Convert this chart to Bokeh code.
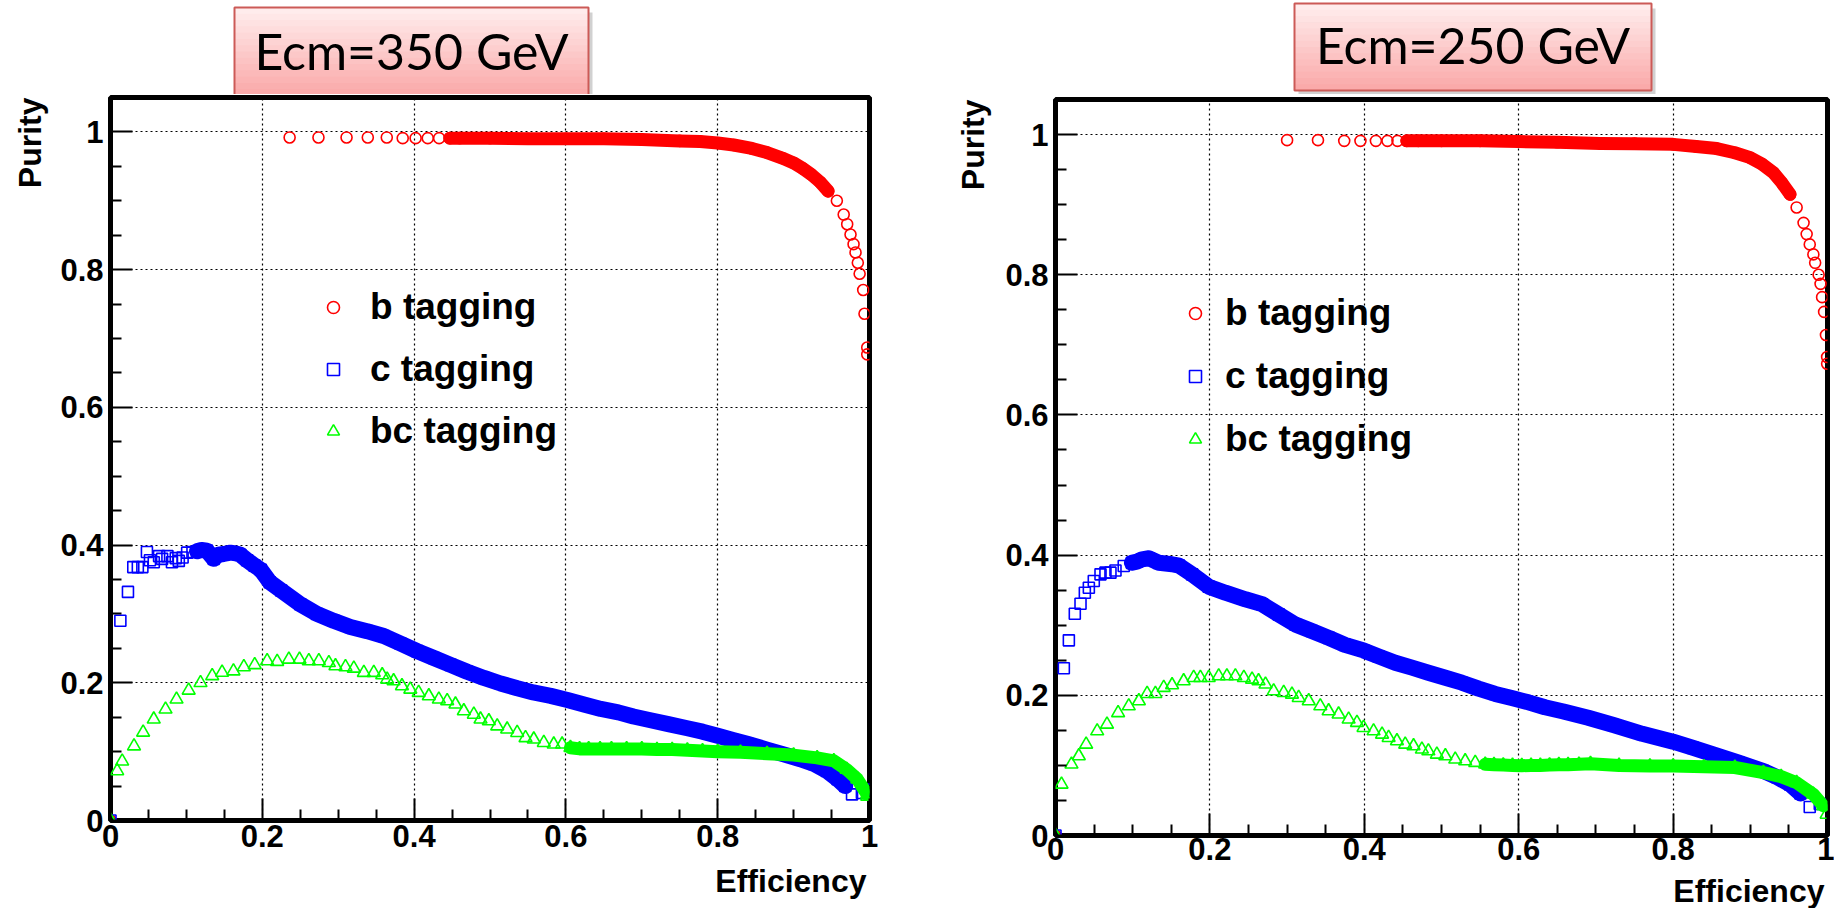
import math
from bokeh.plotting import figure
from bokeh.layouts import row, column
from bokeh.models import (FixedTicker, Legend, LegendItem, Range1d, ColumnDataSource, Plot)
from bokeh.core.properties import value
from bokeh.embed import file_html
from bokeh.resources import INLINE

# ---------------- data ----------------
x_ticks = [0.0, 0.2, 0.4, 0.6, 0.8, 1.0]
x_tick_labels = ["0", "0.2", "0.4", "0.6", "0.8", "1"]
y_ticks = [0.0, 0.2, 0.4, 0.6, 0.8, 1.0]
y_tick_labels = ["0", "0.2", "0.4", "0.6", "0.8", "1"]
series_labels = ["b tagging", "c tagging", "bc tagging"]
panel_titles = ["Ecm=350 GeV", "Ecm=250 GeV"]
x_title = "Efficiency"
y_title = "Purity"

# ---- Ecm = 350 GeV ----
b350_eff = [0.0, 0.236, 0.274, 0.311, 0.339, 0.364, 0.385, 0.402, 0.418, 0.433, 0.447, 0.46, 0.50, 0.55,
            0.60, 0.65, 0.70, 0.75, 0.777, 0.80, 0.821, 0.845, 0.865, 0.885, 0.90, 0.912, 0.9235, 0.935,
            0.9455, 0.957, 0.966, 0.9706, 0.975, 0.979, 0.9816, 0.9846, 0.987, 0.9917, 0.9934, 0.997, 0.997]
b350_pur = [0.0, 0.992, 0.992, 0.992, 0.992, 0.992, 0.991, 0.991, 0.991, 0.991, 0.991, 0.991, 0.991, 0.990,
            0.990, 0.990, 0.989, 0.987, 0.986, 0.984, 0.981, 0.976, 0.970, 0.962, 0.955, 0.947, 0.938, 0.927,
            0.914, 0.900, 0.880, 0.866, 0.851, 0.837, 0.825, 0.810, 0.794, 0.7705, 0.736, 0.687, 0.677]

c350_eff = [0.0, 0.013, 0.023, 0.030, 0.036, 0.042, 0.048, 0.052, 0.057, 0.064, 0.068, 0.075, 0.081, 0.086,
            0.090, 0.095, 0.101, 0.108, 0.114, 0.120, 0.127, 0.136, 0.142, 0.149, 0.158, 0.165, 0.171, 0.180,
            0.190, 0.198, 0.210, 0.225, 0.250, 0.272, 0.294, 0.316, 0.338, 0.360, 0.382, 0.404, 0.426, 0.448,
            0.470, 0.492, 0.514, 0.536, 0.557, 0.580, 0.602, 0.625, 0.646, 0.669, 0.689, 0.710, 0.735, 0.760,
            0.780, 0.800, 0.820, 0.840, 0.865, 0.887, 0.909, 0.927, 0.944, 0.958, 0.968, 0.977, 0.990, 0.997]
c350_pur = [0.0, 0.290, 0.332, 0.368, 0.368, 0.368, 0.390, 0.378, 0.375, 0.384, 0.380, 0.384, 0.375, 0.381,
            0.377, 0.382, 0.389, 0.390, 0.391, 0.393, 0.392, 0.380, 0.386, 0.387, 0.389, 0.388, 0.386, 0.378,
            0.370, 0.364, 0.346, 0.334, 0.314, 0.300, 0.290, 0.281, 0.275, 0.268, 0.257, 0.246, 0.236, 0.226,
            0.216, 0.207, 0.199, 0.192, 0.186, 0.181, 0.175, 0.168, 0.162, 0.157, 0.151, 0.146, 0.140, 0.134,
            0.129, 0.123, 0.117, 0.111, 0.103, 0.096, 0.089, 0.082, 0.072, 0.060, 0.050, 0.038, 0.040, 0.045]

g350_eff = [0.0, 0.0088, 0.0154, 0.031, 0.043, 0.057, 0.0725, 0.087, 0.103, 0.1186, 0.134, 0.147, 0.162,
            0.1757, 0.190, 0.2064, 0.2196, 0.235, 0.249, 0.2613, 0.2745, 0.2877, 0.2964, 0.3096, 0.3206,
            0.3338, 0.3469, 0.358, 0.3645, 0.373, 0.384, 0.395, 0.406, 0.4194, 0.4326, 0.4436, 0.4545,
            0.4655, 0.4787, 0.4875, 0.4985, 0.5095, 0.5226, 0.5358, 0.5468, 0.5577, 0.5709, 0.584, 0.595,
            0.606, 0.618, 0.630, 0.645, 0.660, 0.680, 0.700, 0.720, 0.740, 0.760, 0.780, 0.800, 0.830,
            0.865, 0.900, 0.931, 0.953, 0.970, 0.984, 0.997, 0.997]
g350_pur = [0.0, 0.072, 0.086, 0.108, 0.128, 0.147, 0.1615, 0.176, 0.189, 0.200, 0.210, 0.215, 0.217,
            0.223, 0.226, 0.2317, 0.2307, 0.234, 0.234, 0.2317, 0.2317, 0.229, 0.2244, 0.223, 0.221,
            0.2147, 0.2147, 0.2113, 0.205, 0.2026, 0.1953, 0.1905, 0.1857, 0.1808, 0.176, 0.1736, 0.1688,
            0.159, 0.154, 0.147, 0.1445, 0.137, 0.1325, 0.1275, 0.120, 0.118, 0.113, 0.1107, 0.1107,
            0.1057, 0.104, 0.104, 0.104, 0.104, 0.104, 0.104, 0.103, 0.103, 0.102, 0.101, 0.100, 0.099,
            0.097, 0.095, 0.091, 0.0865, 0.074, 0.060, 0.038, 0.035]

# ---- Ecm = 250 GeV ----
b250_eff = [0.0, 0.300, 0.340, 0.374, 0.395, 0.415, 0.430, 0.443, 0.455, 0.470, 0.500, 0.550, 0.600, 0.650,
            0.7055, 0.750, 0.800, 0.830, 0.8565, 0.880, 0.900, 0.915, 0.930, 0.941, 0.9515, 0.960, 0.969,
            0.973, 0.977, 0.9817, 0.984, 0.9885, 0.991, 0.993, 0.9956, 0.998, 0.9995, 0.9995]
b250_pur = [0.0, 0.992, 0.992, 0.991, 0.991, 0.991, 0.991, 0.991, 0.991, 0.991, 0.991, 0.991, 0.990, 0.989,
            0.9874, 0.987, 0.986, 0.983, 0.980, 0.974, 0.967, 0.958, 0.9455, 0.931, 0.9147, 0.896, 0.874,
            0.858, 0.8433, 0.829, 0.817, 0.800, 0.787, 0.768, 0.747, 0.714, 0.6826, 0.673]

c250_eff = [0.0, 0.0108, 0.0173, 0.0250, 0.0324, 0.0380, 0.0432, 0.0496, 0.0583, 0.0647, 0.0712, 0.0777,
            0.0884, 0.0990, 0.1060, 0.1120, 0.1210, 0.1338, 0.1510, 0.1600, 0.1770, 0.1985, 0.2200, 0.2460,
            0.2675, 0.2890, 0.3107, 0.3320, 0.3540, 0.3750, 0.3990, 0.4185, 0.4400, 0.4617, 0.4830, 0.5050,
            0.5264, 0.5480, 0.5696, 0.5910, 0.6127, 0.6340, 0.6580, 0.6900, 0.7227, 0.7600, 0.8000, 0.8260,
            0.8520, 0.8850, 0.9170, 0.9350, 0.9515, 0.9650, 0.9770, 0.9900]
c250_pur = [0.0, 0.2385, 0.2784, 0.3164, 0.3307, 0.3464, 0.3535, 0.3630, 0.3726, 0.3750, 0.3750, 0.3780,
            0.3845, 0.3890, 0.3910, 0.3940, 0.3955, 0.3890, 0.3870, 0.3850, 0.3726, 0.3550, 0.3464, 0.3370,
            0.3300, 0.3155, 0.3010, 0.2917, 0.2820, 0.2720, 0.2640, 0.2555, 0.2465, 0.2394, 0.2322, 0.2250,
            0.2180, 0.2095, 0.2020, 0.1960, 0.1900, 0.1830, 0.1770, 0.1680, 0.1576, 0.1450, 0.1338, 0.1250,
            0.1158, 0.1040, 0.0920, 0.0830, 0.0730, 0.0600, 0.0407, 0.0450]

g250_eff = [0.0, 0.0078, 0.0207, 0.0302, 0.0397, 0.054, 0.0667, 0.0811, 0.0949, 0.108, 0.1187, 0.1294,
            0.1402, 0.151, 0.166, 0.179, 0.1877, 0.1985, 0.2114, 0.222, 0.233, 0.244, 0.2546, 0.263, 0.272,
            0.2826, 0.2956, 0.3063, 0.315, 0.328, 0.343, 0.3538, 0.3667, 0.3797, 0.3905, 0.399, 0.412, 0.423,
            0.4315, 0.4423, 0.453, 0.4638, 0.4746, 0.483, 0.494, 0.505, 0.5178, 0.5307, 0.5437, 0.5566,
            0.568, 0.580, 0.592, 0.604, 0.616, 0.628, 0.640, 0.652, 0.664, 0.678, 0.693, 0.730, 0.770,
            0.800, 0.840, 0.880, 0.917, 0.940, 0.960, 0.9816, 0.9945, 0.9989]
g250_pur = [0.0, 0.073, 0.1016, 0.1134, 0.130, 0.149, 0.1586, 0.175, 0.1847, 0.1919, 0.2023, 0.2023,
            0.2109, 0.2147, 0.2204, 0.2251, 0.2251, 0.2251, 0.2275, 0.2275, 0.2275, 0.2251, 0.2228, 0.2204,
            0.2157, 0.2061, 0.2037, 0.2013, 0.1966, 0.1919, 0.1847, 0.1776, 0.173, 0.1658, 0.161, 0.1538,
            0.149, 0.1443, 0.1395, 0.1348, 0.130, 0.1277, 0.123, 0.1205, 0.1158, 0.1134, 0.1087, 0.1063,
            0.104, 0.1016, 0.1010, 0.1005, 0.1000, 0.0995, 0.1000, 0.1000, 0.1005, 0.1010, 0.1010, 0.1015,
            0.1025, 0.1000, 0.0990, 0.0990, 0.0980, 0.0970, 0.0896, 0.0840, 0.0753, 0.0588, 0.0423, 0.0300]

# index ranges where the markers are so dense that they merge into a solid band
bands_350 = {"b": (10, 29), "c": (18, 67), "g": (49, 69)}
bands_250 = {"b": (8, 25), "c": (13, 54), "g": (49, 71)}

# ---------------- styling / layout (absolute page pixels) ----------------
FONT = "Liberation Sans"
W, H = 1834, 908
HEAD = 94          # strip on top holding the "Ecm=..." boxes
STRIP = 55         # strip left of each panel holding the "Purity" title
Y_MAX = 1.05
COLORS = {"b": "#ff0000", "c": "#0000ff", "g": "#00ff00"}
MARKERS = {"b": ("circle", 11), "c": ("square", 11), "g": ("triangle", 13)}
BAND_W = {"b": 13, "c": 16, "g": 13}
minor = [round(0.05 * k, 2) for k in range(1, 21) if k % 4 != 0]
HAS_FRAME_ALIGN = "frame_align" in Plot.properties()

# panel geometry: canvas left/right/bottom, frame left/right/top/bottom  (page px)
GEO = [
    dict(cl=STRIP, cr=945, cb=860, fl=110, fr=869, ft=97, fb=820, xstand=4, eff_y=880, pur_x=29),
    dict(cl=945 + STRIP, cr=W, cb=872, fl=1055, fr=1827, ft=99, fb=835, xstand=2, eff_y=890, pur_x=972),
]


def blank(width, height):
    f = figure(width=width, height=height, x_range=Range1d(0, width), y_range=Range1d(height, 0),
               x_axis_type=None, y_axis_type=None, output_backend="svg", toolbar_location=None,
               min_border=0, min_border_left=0, min_border_right=0, min_border_top=0,
               min_border_bottom=0, background_fill_color="white", border_fill_color="white")
    f.outline_line_color = None
    if HAS_FRAME_ALIGN:
        f.frame_align = False
    return f


def build(geo, series, bands, legend_px, legend_spacing, legend_standoff):
    width = geo["cr"] - geo["cl"]
    height = geo["cb"] - HEAD
    p = figure(width=width, height=height, x_range=Range1d(0, 1), y_range=Range1d(0, Y_MAX),
               output_backend="svg", toolbar_location=None,
               min_border_left=geo["fl"] - geo["cl"], min_border_right=geo["cr"] - geo["fr"],
               min_border_top=geo["ft"] - HEAD, min_border_bottom=geo["cb"] - geo["fb"],
               background_fill_color="white", border_fill_color="white")
    if HAS_FRAME_ALIGN:
        p.frame_align = False
    p.outline_line_color = "black"
    p.outline_line_width = 5
    p.outline_line_alpha = 1.0

    for ax, ticks, labels in ((p.xaxis[0], x_ticks, x_tick_labels), (p.yaxis[0], y_ticks, y_tick_labels)):
        ax.ticker = FixedTicker(ticks=ticks, minor_ticks=minor)
        ax.major_label_overrides = dict(zip(ticks, labels))
        ax.major_label_text_font = FONT
        ax.major_label_text_font_style = "bold"
        ax.major_label_text_font_size = "31px"
        ax.major_label_text_color = "black"
        ax.major_tick_in = 22
        ax.major_tick_out = 0
        ax.minor_tick_in = 11
        ax.minor_tick_out = 0
        ax.major_tick_line_width = 2
        ax.minor_tick_line_width = 2
        ax.major_tick_line_color = "black"
        ax.minor_tick_line_color = "black"
        ax.axis_line_color = None
    p.xaxis[0].major_label_standoff = geo["xstand"]
    p.yaxis[0].major_label_standoff = 7

    p.xgrid[0].ticker = FixedTicker(ticks=x_ticks)
    p.ygrid[0].ticker = FixedTicker(ticks=y_ticks)
    for gr in (p.xgrid[0], p.ygrid[0]):
        gr.grid_line_color = "black"
        gr.grid_line_dash = "2 3"
        gr.grid_line_width = 1.2

    renderers = {}
    for key in ("b", "c", "g"):
        eff, pur = series[key]
        a, b = bands[key]
        p.line(eff[a:b], pur[a:b], line_color=COLORS[key], line_width=BAND_W[key],
               line_join="round", line_cap="round")
        marker, size = MARKERS[key]
        renderers[key] = p.scatter(eff, pur, marker=marker, size=size, line_color=COLORS[key],
                                   fill_color=None, line_width=1.6)

    lx, ly = legend_px
    item_h = 44
    leg_h = 3 * item_h + 2 * legend_spacing
    legend = Legend(
        items=[LegendItem(label=series_labels[i], renderers=[renderers[k]]) for i, k in enumerate("bcg")],
        location=(lx - geo["fl"], geo["fb"] - (ly + leg_h)),
        orientation="vertical", glyph_width=30, glyph_height=item_h, label_height=item_h,
        label_standoff=legend_standoff, spacing=legend_spacing, padding=0, margin=0,
        border_line_alpha=0, background_fill_alpha=0,
        label_text_font=FONT, label_text_font_style="bold", label_text_font_size="37px",
        label_text_color="black")
    p.add_layout(legend)

    # "Efficiency" title, right-aligned under the axis (ROOT style)
    foot = blank(width, H - geo["cb"])
    foot.text(x=[geo["fr"] - 3 - geo["cl"]], y=[geo["eff_y"] - geo["cb"]], text=[x_title],
              text_align="right", text_baseline="middle", text_font=value(FONT),
              text_font_style="bold", text_font_size="32px", text_color="black")
    # "Purity" title, rotated, ending at the top of the axis
    strip = blank(STRIP, H - HEAD)
    strip.text(x=[geo["pur_x"] - (geo["cl"] - STRIP)], y=[geo["ft"] - HEAD], text=[y_title],
               angle=math.pi / 2, text_align="right", text_baseline="middle", text_font=value(FONT),
               text_font_style="bold", text_font_size="32px", text_color="black")
    return strip, column(p, foot, spacing=0)


s1, c1 = build(GEO[0], {"b": (b350_eff, b350_pur), "c": (c350_eff, c350_pur), "g": (g350_eff, g350_pur)},
               bands_350, (318, 285), 18, 22)
s2, c2 = build(GEO[1], {"b": (b250_eff, b250_pur), "c": (c250_eff, c250_pur), "g": (g250_eff, g250_pur)},
               bands_250, (1180, 291), 19, 15)

# ---------------- header strip with the two "Ecm=..." boxes ----------------
head = blank(W, HEAD)
boxes_px = [(234, 588, 7, 95), (1294, 1651, 3, 90)]     # left, right, top, bottom (px)
text_mid_px = [50, 44]
head.quad(left=[b[0] + 4 for b in boxes_px], right=[b[1] + 4 for b in boxes_px],
          top=[b[2] + 5 for b in boxes_px], bottom=[b[3] + 5 for b in boxes_px],
          fill_color="black", fill_alpha=0.18, line_color=None)
nb = 14
c0, c1c = (255, 236, 236), (250, 170, 170)
gl, grr, gt, gb, gc = [], [], [], [], []
for (L, R, T, B) in boxes_px:
    for i in range(nb):
        t = i / (nb - 1)
        gc.append("#%02x%02x%02x" % tuple(int(round(c0[j] + (c1c[j] - c0[j]) * t)) for j in range(3)))
        gl.append(L)
        grr.append(R)
        gt.append(T + (B - T) * i / nb)
        gb.append(min(B, T + (B - T) * (i + 1) / nb + 0.7))
head.quad(left=gl, right=grr, top=gt, bottom=gb, fill_color=gc, line_color=None)
head.quad(left=[b[0] for b in boxes_px], right=[b[1] for b in boxes_px],
          top=[b[2] for b in boxes_px], bottom=[b[3] for b in boxes_px],
          fill_color=None, line_color="#cc5a57", line_width=2)
title_src = ColumnDataSource(dict(x=[(b[0] + b[1]) / 2 for b in boxes_px], y=text_mid_px, text=panel_titles))
head.text(x="x", y="y", text="text", source=title_src, text_align="center", text_baseline="middle",
          text_font=value("Lato"), text_font_size="50px", text_color="black")

layout = column(head, row(s1, c1, s2, c2, spacing=0), spacing=0)
with open("out.html", "w") as f:
    f.write(file_html(layout, INLINE))
